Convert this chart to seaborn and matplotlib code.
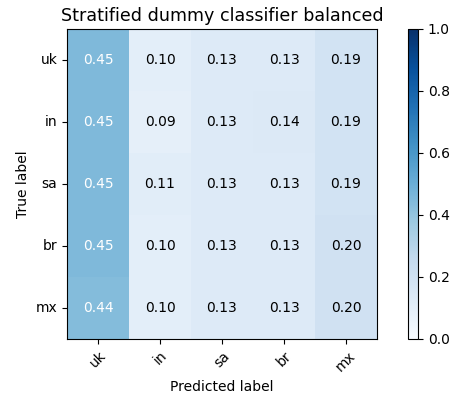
import numpy as np
import pandas as pd
import matplotlib
matplotlib.use("Agg")
import matplotlib.pyplot as plt
import seaborn as sns

classes = ["uk", "in", "sa", "br", "mx"]
row_uk = [0.45, 0.10, 0.13, 0.13, 0.19]
row_in = [0.45, 0.09, 0.13, 0.14, 0.19]
row_sa = [0.45, 0.11, 0.13, 0.13, 0.19]
row_br = [0.45, 0.10, 0.13, 0.13, 0.20]
row_mx = [0.44, 0.10, 0.13, 0.13, 0.20]

cm = pd.DataFrame([row_uk, row_in, row_sa, row_br, row_mx], index=classes, columns=classes)

plt.rcParams["font.family"] = ["DejaVu Sans"]
fig = plt.figure(figsize=(4.56, 4.0), dpi=100)
ax = fig.add_axes([67 / 456, 61 / 400, 310 / 456, 310 / 400])
cax = fig.add_axes([408 / 456, 61 / 400, 10 / 456, 310 / 400])

sns.heatmap(cm, ax=ax, cbar_ax=cax, cmap="Blues", vmin=0, vmax=1, annot=False, square=False)

# Cell annotations: white text on the darker cells
thresh = cm.values.max() / 2.0
for i in range(cm.shape[0]):
    for j in range(cm.shape[1]):
        v = cm.values[i, j]
        ax.text(j + 0.5, i + 0.5, f"{v:.2f}", ha="center", va="center",
                fontsize=10, color="white" if v > thresh else "black")

for s in ax.spines.values():
    s.set_visible(True)
    s.set_linewidth(0.8)
    s.set_color("black")

ax.tick_params(axis="both", which="both", length=3.5, width=0.8, direction="out", labelsize=10)
ax.set_xticks(np.arange(len(classes)) + 0.5)
ax.set_yticks(np.arange(len(classes)) + 0.5)
ax.set_xticklabels(classes, rotation=45, ha="center")
ax.set_yticklabels(classes, rotation=0)
ax.set_xlabel("Predicted label", fontsize=10)
ax.set_ylabel("True label", fontsize=10)
ax.set_title("Stratified dummy classifier balanced", fontsize=12.6)

cbar = ax.collections[0].colorbar
cbar.outline.set_visible(True)
cbar.outline.set_linewidth(0.8)
cbar.outline.set_edgecolor("black")
cbar.set_ticks([0.0, 0.2, 0.4, 0.6, 0.8, 1.0])
cax.tick_params(length=3.5, width=0.8, labelsize=10)

fig.savefig("out.png", dpi=100, facecolor="white")
